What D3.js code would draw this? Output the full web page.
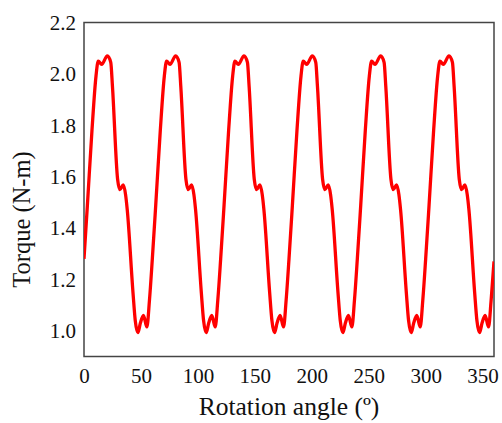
<!DOCTYPE html>
<html>
<head>
<meta charset="utf-8">
<script src="https://cdn.jsdelivr.net/npm/d3@7"></script>
<style>
  body { margin: 0; background: #fff; }
  svg text { font-family: "Liberation Serif", "DejaVu Serif", serif; fill: #111; }
</style>
</head>
<body>
<div id="chart"></div>
<script>
// rotation angle (deg), one cycle per row
const angle = [
    0, 3, 7, 10.5, 12.5, 15.5, 20.5, 23.5, 25, 29.5, 31.5, 34.5, 36.5, 38, 43, 45, 47.3, 49.5, 52.2, 55.2, 57.5,
    60, 63, 67, 70.5, 72.5, 75.5, 80.5, 83.5, 85, 89.5, 91.5, 94.5, 96.5, 98, 103, 105, 107.3, 109.5, 112.2, 115.2, 117.5,
    120, 123, 127, 130.5, 132.5, 135.5, 140.5, 143.5, 145, 149.5, 151.5, 154.5, 156.5, 158, 163, 165, 167.3, 169.5, 172.2, 175.2, 177.5,
    180, 183, 187, 190.5, 192.5, 195.5, 200.5, 203.5, 205, 209.5, 211.5, 214.5, 216.5, 218, 223, 225, 227.3, 229.5, 232.2, 235.2, 237.5,
    240, 243, 247, 250.5, 252.5, 255.5, 260.5, 263.5, 265, 269.5, 271.5, 274.5, 276.5, 278, 283, 285, 287.3, 289.5, 292.2, 295.2, 297.5,
    300, 303, 307, 310.5, 312.5, 315.5, 320.5, 323.5, 325, 329.5, 331.5, 334.5, 336.5, 338, 343, 345, 347.3, 349.5, 352.2, 355.2, 357.5,
    360
];
// torque (N-m)
const torque = [
    1.28, 1.49, 1.78, 1.99, 2.05, 2.037, 2.07, 2.045, 1.95, 1.59, 1.55, 1.568, 1.53, 1.47, 1.15, 1.04, 0.993, 1.03, 1.06, 1.015, 1.12,
    1.28, 1.49, 1.78, 1.99, 2.05, 2.037, 2.07, 2.045, 1.95, 1.59, 1.55, 1.568, 1.53, 1.47, 1.15, 1.04, 0.993, 1.03, 1.06, 1.015, 1.12,
    1.28, 1.49, 1.78, 1.99, 2.05, 2.037, 2.07, 2.045, 1.95, 1.59, 1.55, 1.568, 1.53, 1.47, 1.15, 1.04, 0.993, 1.03, 1.06, 1.015, 1.12,
    1.28, 1.49, 1.78, 1.99, 2.05, 2.037, 2.07, 2.045, 1.95, 1.59, 1.55, 1.568, 1.53, 1.47, 1.15, 1.04, 0.993, 1.03, 1.06, 1.015, 1.12,
    1.28, 1.49, 1.78, 1.99, 2.05, 2.037, 2.07, 2.045, 1.95, 1.59, 1.55, 1.568, 1.53, 1.47, 1.15, 1.04, 0.993, 1.03, 1.06, 1.015, 1.12,
    1.28, 1.49, 1.78, 1.99, 2.05, 2.037, 2.07, 2.045, 1.95, 1.59, 1.55, 1.568, 1.53, 1.47, 1.15, 1.04, 0.993, 1.03, 1.06, 1.015, 1.12,
    1.27
];
const xTicks = [0, 50, 100, 150, 200, 250, 300, 350];
const yTicks = [1.0, 1.2, 1.4, 1.6, 1.8, 2.0, 2.2];

const width = 502, height = 423;
const margin = { top: 22.5, right: 8, bottom: 66.5, left: 84 };
const serif = '"Liberation Serif", "DejaVu Serif", serif';

const svg = d3.select("#chart").append("svg")
    .attr("width", width)
    .attr("height", height);

const x = d3.scaleLinear().domain([0, 360]).range([margin.left, width - margin.right]);
const y = d3.scaleLinear().domain([0.9, 2.2]).range([height - margin.bottom, margin.top]);

const data = angle.map((a, i) => ({ a, t: torque[i] }));

svg.append("defs").append("clipPath").attr("id", "clip")
    .append("rect")
    .attr("x", x(0)).attr("y", y(2.2))
    .attr("width", x(360) - x(0)).attr("height", y(0.9) - y(2.2));

// frame
svg.append("rect")
    .attr("x", x(0)).attr("y", y(2.2))
    .attr("width", x(360) - x(0)).attr("height", y(0.9) - y(2.2))
    .attr("fill", "none")
    .attr("stroke", "#444")
    .attr("stroke-width", 1.5);

const line = d3.line()
    .x(d => x(d.a))
    .y(d => y(d.t))
    .curve(d3.curveMonotoneX);

svg.append("path")
    .datum(data)
    .attr("clip-path", "url(#clip)")
    .attr("fill", "none")
    .attr("stroke", "#ff0000")
    .attr("stroke-width", 3.3)
    .attr("stroke-linejoin", "round")
    .attr("d", line);

const xAxis = svg.append("g")
    .attr("transform", `translate(0,${y(0.9)})`)
    .call(d3.axisBottom(x).tickValues(xTicks).tickSize(0).tickPadding(12).tickFormat(d3.format("d")))
    .attr("font-family", serif)
    .attr("font-size", 21);
xAxis.select(".domain").remove();
xAxis.selectAll("text").attr("fill", "#111");

const yAxis = svg.append("g")
    .attr("transform", `translate(${x(0)},0)`)
    .call(d3.axisLeft(y).tickValues(yTicks).tickSize(0).tickPadding(8).tickFormat(d3.format(".1f")))
    .attr("font-family", serif)
    .attr("font-size", 21);
yAxis.select(".domain").remove();
yAxis.selectAll("text").attr("fill", "#111");

svg.append("text")
    .attr("x", (x(0) + x(360)) / 2)
    .attr("y", 415)
    .attr("text-anchor", "middle")
    .attr("font-family", serif)
    .style("font-size", "25.5px")
    .text("Rotation angle (º)");

svg.append("text")
    .attr("transform", `translate(30,${(y(0.9) + y(2.2)) / 2 + 30}) rotate(-90)`)
    .attr("text-anchor", "middle")
    .attr("font-family", serif)
    .style("font-size", "24.5px")
    .text("Torque (N-m)");
</script>
</body>
</html>
